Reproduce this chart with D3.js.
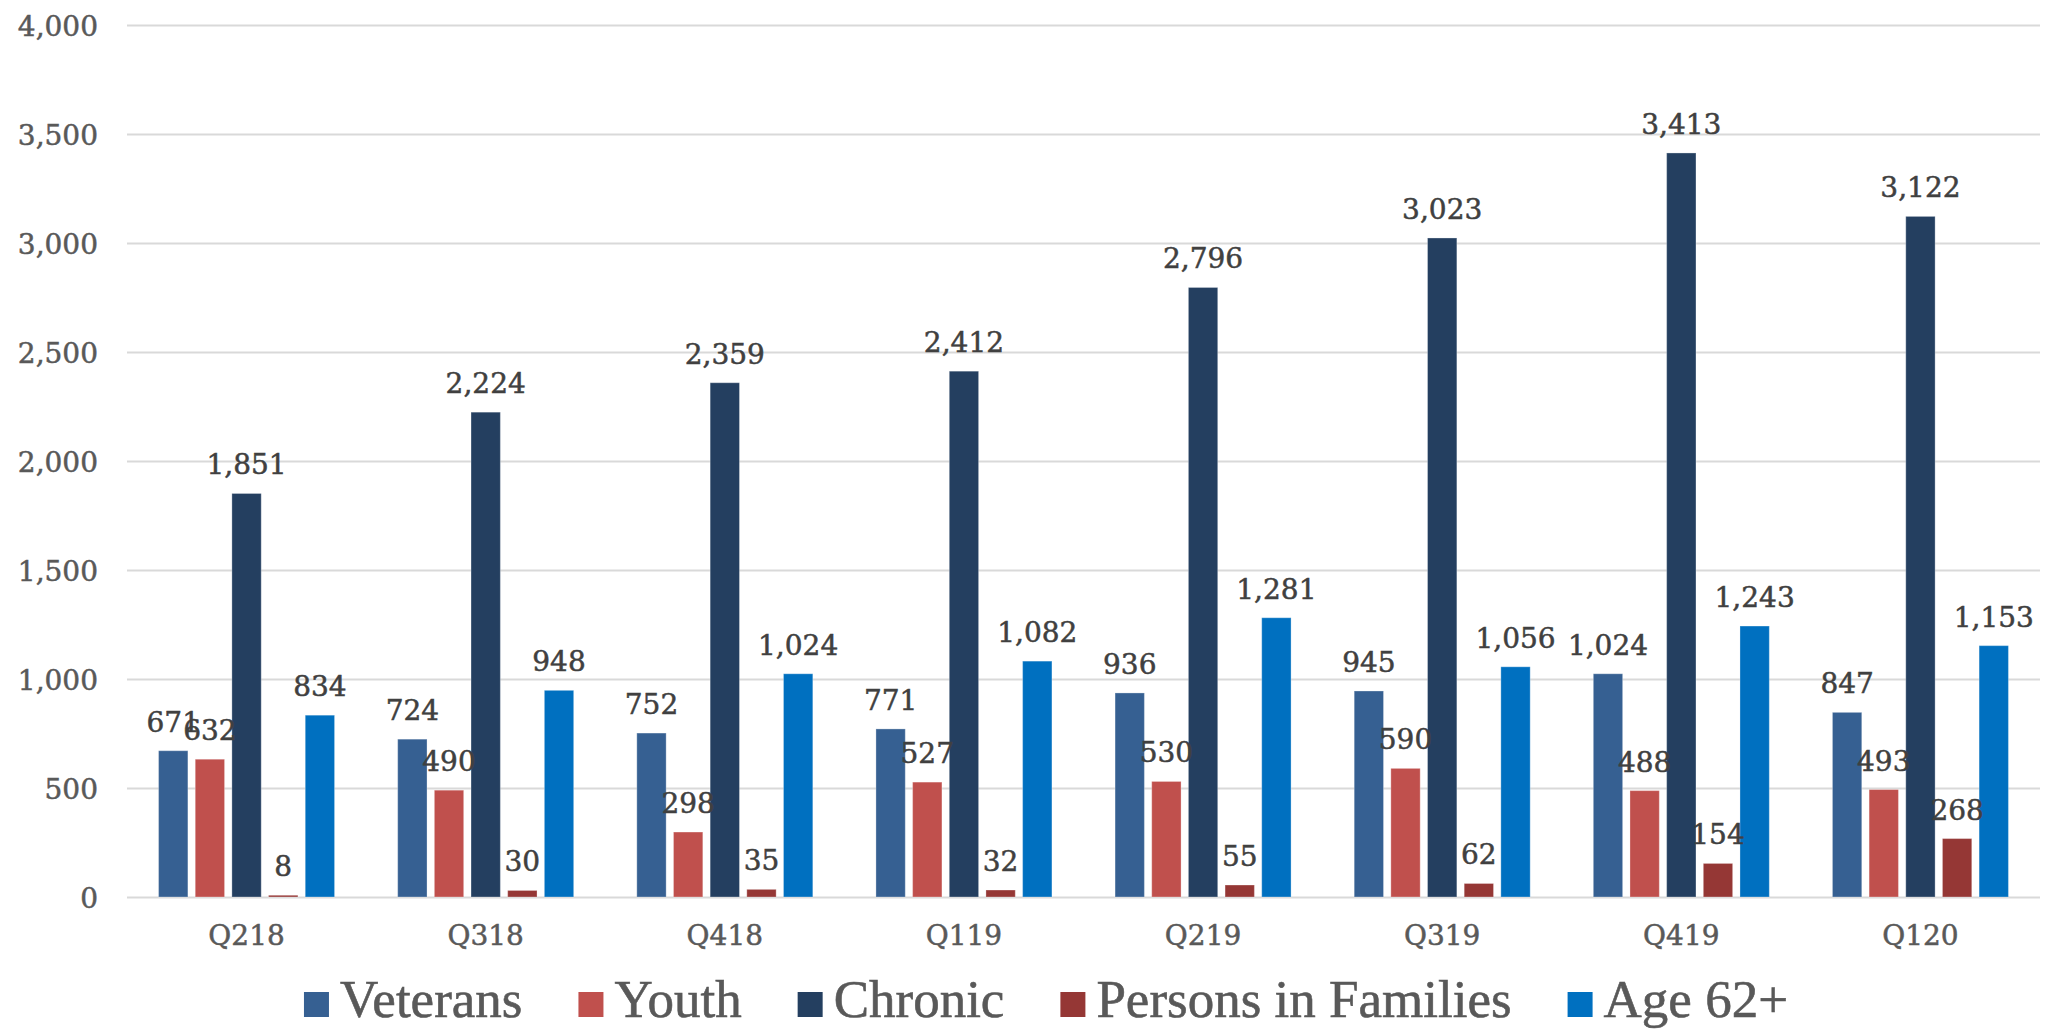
<!DOCTYPE html>
<html><head><meta charset="utf-8">
<script src="https://cdn.jsdelivr.net/npm/d3@7"></script>
<style>html,body{margin:0;padding:0;background:#fff;}</style>
</head><body>
<svg id="c" width="2051" height="1032"></svg>
<script>
const categories = ["Q218","Q318","Q418","Q119","Q219","Q319","Q419","Q120"];
const seriesNames = ["Veterans","Youth","Chronic","Persons in Families","Age 62+"];
const veterans = [671,724,752,771,936,945,1024,847];
const youth = [632,490,298,527,530,590,488,493];
const chronic = [1851,2224,2359,2412,2796,3023,3413,3122];
const families = [8,30,35,32,55,62,154,268];
const age62 = [834,948,1024,1082,1281,1056,1243,1153];
const yTicks = [0,500,1000,1500,2000,2500,3000,3500,4000];
const colors = ["#366092","#C0504D","#243F60","#953735","#0070C0"];

(function(){
const seriesValues = [veterans,youth,chronic,families,age62];
const svg = d3.select("#c");
const pLeft = 127, pRight = 2040, pTop = 25, pBottom = 897;
const numFont = "'DejaVu Serif', serif";
const legFont = "'Liberation Serif', serif";

const x0 = d3.scaleBand().domain(categories).range([pLeft,pRight]).padding(0);
const y = d3.scaleLinear().domain([0,4000]).range([pBottom,pTop]);
const groupW = 176;
const x1 = d3.scaleBand().domain(seriesNames).range([-groupW/2, groupW/2]).paddingInner(0.2).paddingOuter(0);

const yAxis = d3.axisLeft(y).tickValues(yTicks).tickFormat(d3.format(",")).tickSize(-(pRight-pLeft)).tickPadding(29);
const ga = svg.append("g").attr("transform",`translate(${pLeft},0)`).call(yAxis);
ga.select(".domain").remove();
ga.selectAll(".tick line").attr("stroke","#d9d9d9").attr("stroke-width",2);
ga.selectAll(".tick text").attr("fill","#595959").style("font-family",numFont).style("font-size","28px").attr("dy","0.36em")
  .attr("stroke","#595959").attr("stroke-width",0.5);

const groups = svg.append("g").selectAll("g").data(categories).join("g")
  .attr("transform",d=>`translate(${x0(d)+x0.bandwidth()/2},0)`);
seriesNames.forEach((s,si)=>{
  groups.append("rect")
    .attr("x",x1(s)).attr("width",x1.bandwidth())
    .attr("y",(d,i)=>y(seriesValues[si][i]))
    .attr("height",(d,i)=>y(0)-y(seriesValues[si][i]))
    .attr("fill",colors[si])
    .attr("stroke","#ffffff").attr("stroke-opacity",0.3).attr("stroke-width",1);
});
seriesNames.forEach((s,si)=>{
  groups.append("text")
    .attr("x",x1(s)+x1.bandwidth()/2)
    .attr("y",(d,i)=>y(seriesValues[si][i])-19)
    .attr("text-anchor","middle")
    .attr("fill","#404040").attr("stroke","#404040").attr("stroke-width",0.5)
    .style("font-family",numFont).style("font-size","28px")
    .text((d,i)=>d3.format(",")(seriesValues[si][i]));
});

const xAxis = d3.axisBottom(x0).tickSize(0).tickPadding(0);
const gx = svg.append("g").attr("transform",`translate(0,${pBottom})`).call(xAxis);
gx.select(".domain").remove();
gx.selectAll(".tick text").attr("fill","#595959").attr("stroke","#595959").attr("stroke-width",0.5)
  .style("font-family",numFont).style("font-size","28px")
  .attr("dy",null).attr("y",48);

const leg = svg.append("g");
const items = leg.selectAll("g").data(seriesNames).join("g");
items.append("rect").attr("width",25).attr("height",25).attr("y",992).attr("fill",(d,i)=>colors[i]);
items.append("text").attr("x",36).attr("y",1017).attr("fill","#595959").attr("stroke","#595959").attr("stroke-width",0.6)
  .style("font-family",legFont).style("font-size","53px").text(d=>d);
let cx = 0; const gap = 56; const pos = [];
items.each(function(){
  const w = 36 + d3.select(this).select("text").node().getComputedTextLength();
  pos.push(cx); cx += w + gap;
});
const total = cx - gap;
const startX = 1046 - total/2;
items.attr("transform",(d,i)=>`translate(${startX+pos[i]},0)`);
})();
</script>
</body></html>
